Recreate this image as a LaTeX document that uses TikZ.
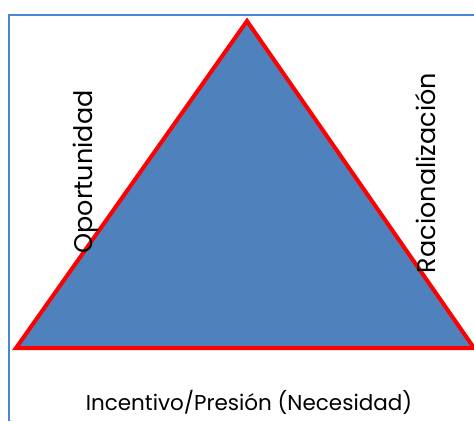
\documentclass[tikz,border=0pt]{standalone}
\usepackage{fontspec}
\setmainfont{Poppins}
\definecolor{fillblue}{HTML}{4F81BD}
\definecolor{frameblue}{HTML}{4A86D6}
\tikzset{
  px/.style={x=1pt,y=-1pt},
  tri/.style={fill=fillblue,draw=red,line width=4pt,line join=miter},
  frame/.style={draw=frameblue,line width=2pt},
  lbl/.style={text=black,inner sep=0pt},
  sidelbl/.style={lbl,font=\fontsize{25.5}{28}\selectfont,rotate=90},
  baselbl/.style={lbl,font=\fontsize{21.5}{24}\selectfont}
}
\begin{document}
\begin{tikzpicture}[px]
\useasboundingbox (0,0) rectangle (474,421);
\coordinate (fa) at (9,421);
\coordinate (fb) at (9,15);
\coordinate (fc) at (474,15);
\draw[frame] (fa) -- (fb) -- (fc);
\coordinate (apex) at (247,21);
\coordinate (bl) at (16,348);
\coordinate (br) at (474,348);
\draw[tri] (apex) -- (br) -- (bl) -- cycle;
\node[sidelbl] (op) at (86,172) {Oportunidad};
\node[sidelbl] (ra) at (426,173) {Racionalización};
\node[baselbl] (in) at (249,402) {Incentivo/Presión (Necesidad)};
\end{tikzpicture}
\end{document}
